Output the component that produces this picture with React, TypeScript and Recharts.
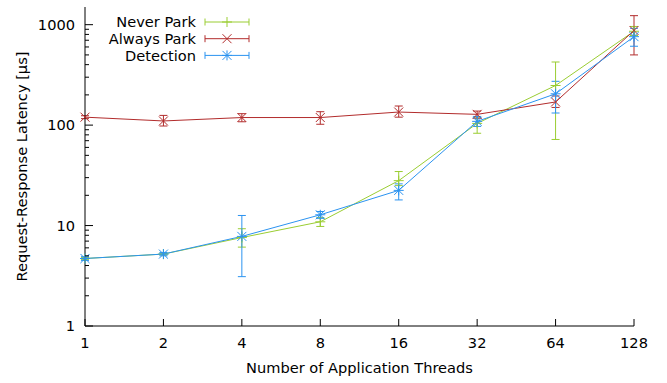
import { ComposedChart, Line, XAxis, YAxis, ErrorBar, Legend } from "recharts";

// thread counts on the x axis (log2 spaced)
const threads = [1, 2, 4, 8, 16, 32, 64, 128];

// latency in µs
const neverPark = [4.7, 5.2, 7.6, 10.9, 28, 104, 248, 860];
const neverParkLow = [4.6, 5.1, 6.1, 9.8, 25, 83, 72, 780];
const neverParkHigh = [4.8, 5.3, 9.3, 12, 34.5, 120, 425, 960];

const alwaysPark = [120, 110, 119, 119, 135, 128, 170, 875];
const alwaysParkLow = [116, 98, 108, 102, 120, 117, 150, 500];
const alwaysParkHigh = [124, 125, 130, 136, 155, 138, 195, 1230];

const detection = [4.7, 5.2, 7.8, 12.8, 22.4, 109, 205, 760];
const detectionLow = [4.5, 5.0, 3.1, 11.8, 18, 97, 132, 610];
const detectionHigh = [4.9, 5.4, 12.6, 13.8, 26, 122, 273, 920];

const yMajor = [1, 10, 100, 1000];
const yMinor = yMajor.slice(0, 3).flatMap(d => [2, 3, 4, 5, 6, 7, 8, 9].map(m => m * d));
const yTicks = [...yMajor, ...yMinor].sort((a, b) => a - b);

const series = [
  { key: "never", name: "Never Park", color: "#9acd32", mark: "+" },
  { key: "always", name: "Always Park", color: "#b22c2c", mark: "x" },
  { key: "detect", name: "Detection", color: "#2b93f0", mark: "*" },
];

const err = (v: number, lo: number, hi: number) => [v - lo, hi - v];

const data = threads.map((t, i) => ({
  threads: t,
  never: neverPark[i],
  neverErr: err(neverPark[i], neverParkLow[i], neverParkHigh[i]),
  always: alwaysPark[i],
  alwaysErr: err(alwaysPark[i], alwaysParkLow[i], alwaysParkHigh[i]),
  detect: detection[i],
  detectErr: err(detection[i], detectionLow[i], detectionHigh[i]),
}));

const FONT = "DejaVu Sans, sans-serif";
const FS = 14.6;
const GAP = 10;

function Marker({ cx, cy, mark, color }: { cx: number; cy: number; mark: string; color: string }) {
  const r = 5;
  return (
    <g stroke={color} strokeWidth={1} fill="none">
      {mark !== "x" && (
        <>
          <line x1={cx - r} y1={cy} x2={cx + r} y2={cy} />
          <line x1={cx} y1={cy - r} x2={cx} y2={cy + r} />
        </>
      )}
      {mark !== "+" && (
        <>
          <line x1={cx - 4.5} y1={cy - 4.5} x2={cx + 4.5} y2={cy + 4.5} />
          <line x1={cx - 4.5} y1={cy + 4.5} x2={cx + 4.5} y2={cy - 4.5} />
        </>
      )}
    </g>
  );
}

const dotFor = (mark: string, color: string) => (p: any) => (
  <Marker key={p.index} cx={p.cx} cy={p.cy} mark={mark} color={color} />
);

const LeftTick = (p: any) => {
  const v = p.payload.value;
  const major = yMajor.includes(v);
  const edge = p.x + GAP;
  return (
    <g>
      <line x1={edge} x2={edge + (major ? 8 : 4)} y1={p.y} y2={p.y} stroke="#000" />
      {major && (
        <text x={p.x} y={p.y} dy="0.36em" textAnchor="end" fontSize={FS} fontFamily={FONT} fill="#000">{v}</text>
      )}
    </g>
  );
};

const RightTick = (p: any) => {
  const major = yMajor.includes(p.payload.value);
  const edge = p.x - GAP;
  return <line x1={edge} x2={edge - (major ? 8 : 4)} y1={p.y} y2={p.y} stroke="#000" />;
};

const BottomTick = (p: any) => {
  const edge = p.y - 12;
  return (
    <g>
      <line x1={p.x} x2={p.x} y1={edge} y2={edge - 7} stroke="#000" />
      <text x={p.x} y={p.y} dy="0.71em" textAnchor="middle" fontSize={FS} fontFamily={FONT} fill="#000">{p.payload.value}</text>
    </g>
  );
};

const TopTick = (p: any) => {
  const edge = p.y + GAP;
  return <line x1={p.x} x2={p.x} y1={edge} y2={edge + 7} stroke="#000" />;
};

const LegendBox = () => (
  <svg width={260} height={70} style={{ display: "block" }}>
    {series.map((s, i) => {
      const y = 22 + i * 16.7;
      return (
        <g key={s.key}>
          <text x={196} y={y} dy="0.36em" textAnchor="end" fontSize={FS} fontFamily={FONT} fill="#000">{s.name}</text>
          <g stroke={s.color} strokeWidth={1}>
            <line x1={205} x2={249} y1={y} y2={y} />
            <line x1={205} x2={205} y1={y - 3.5} y2={y + 3.5} />
            <line x1={249} x2={249} y1={y - 3.5} y2={y + 3.5} />
          </g>
          <Marker cx={227} cy={y} mark={s.mark} color={s.color} />
        </g>
      );
    })}
  </svg>
);

export default function App() {
  return (
    <div style={{ position: "absolute", left: 0, top: 0, width: 667, height: 383, background: "#fff" }}>
      <ComposedChart width={667} height={383} data={data} margin={{ top: 7, right: 33, bottom: 0, left: 0 }}>
        <XAxis
          xAxisId="b"
          dataKey="threads"
          type="number"
          scale="log"
          domain={[1, 128]}
          ticks={threads}
          interval={0}
          height={57}
          tickLine={false}
          tickSize={0}
          tickMargin={12}
          tick={<BottomTick />}
          axisLine={{ stroke: "#000" }}
          label={{ value: "Number of Application Threads", position: "insideBottom", offset: 10, fontSize: FS, fontFamily: FONT, fill: "#000" }}
        />
        <XAxis
          xAxisId="t"
          orientation="top"
          type="number"
          scale="log"
          domain={[1, 128]}
          ticks={threads}
          interval={0}
          height={0}
          tickLine={false}
          tickSize={0}
          tickMargin={GAP}
          tick={<TopTick />}
          axisLine={{ stroke: "#000" }}
        />
        <YAxis
          yAxisId="l"
          type="number"
          scale="log"
          domain={[1, 1500]}
          allowDataOverflow
          ticks={yTicks}
          interval={0}
          width={85}
          tickLine={false}
          tickSize={0}
          tickMargin={GAP}
          tick={<LeftTick />}
          axisLine={{ stroke: "#000" }}
          label={{ value: "Request-Response Latency [µs]", angle: -90, position: "insideLeft", offset: 22, fontSize: FS, fontFamily: FONT, fill: "#000", style: { textAnchor: "middle" } }}
        />
        <YAxis
          yAxisId="r"
          orientation="right"
          type="number"
          scale="log"
          domain={[1, 1500]}
          allowDataOverflow
          ticks={yTicks}
          interval={0}
          width={0}
          tickLine={false}
          tickSize={0}
          tickMargin={GAP}
          tick={<RightTick />}
          axisLine={{ stroke: "#000" }}
        />
        <Legend
          layout="horizontal"
          verticalAlign="middle"
          content={<LegendBox />}
          wrapperStyle={{ left: 0, top: 0, width: 260, height: 70 }}
        />
        {series.map(s => (
          <Line
            key={s.key}
            xAxisId="b"
            yAxisId="l"
            type="linear"
            dataKey={s.key}
            name={s.name}
            stroke={s.color}
            strokeWidth={1}
            dot={dotFor(s.mark, s.color)}
            activeDot={false}
            isAnimationActive={false}
          >
            <ErrorBar dataKey={s.key + "Err"} direction="y" width={4} stroke={s.color} strokeWidth={1} isAnimationActive={false} />
          </Line>
        ))}
      </ComposedChart>
    </div>
  );
}
